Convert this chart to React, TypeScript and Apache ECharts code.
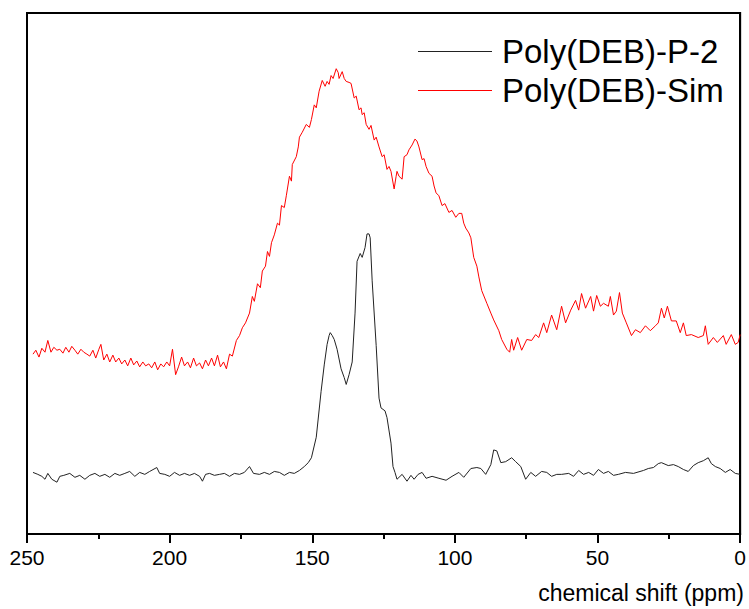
import React, { useEffect, useRef } from "react";
import * as echarts from "echarts";

// Chemical shift (ppm) and intensity (arbitrary units)
const ppmP2 = [247.9,246.2,244.8,243.7,242.7,241.3,239.5,238.5,237.1,235.0,233.2,231.5,229.7,228.0,226.2,224.5,222.7,221.0,219.2,217.5,215.7,214.0,212.2,210.5,208.7,207.0,204.5,203.5,201.7,200.0,198.3,196.5,194.8,193.0,191.3,189.5,188.5,187.4,186.0,184.3,182.5,180.8,179.0,177.3,175.5,173.8,172.0,170.6,168.5,166.8,165.0,163.3,161.5,159.8,158.0,156.3,154.5,152.8,151.4,150.3,148.6,146.9,145.8,144.8,144.1,143.7,143.0,142.3,141.3,139.9,138.8,138.1,137.1,136.0,135.0,134.3,133.2,132.5,131.5,130.8,130.1,129.7,129.0,127.6,126.6,125.9,124.5,123.8,122.4,121.7,121.0,120.3,118.5,116.8,115.4,114.3,112.9,111.5,110.1,108.0,105.6,103.1,101.0,98.6,96.9,94.4,92.3,90.9,89.2,87.4,86.4,85.3,83.9,82.2,80.1,78.7,76.9,75.2,73.4,71.7,69.6,67.8,66.1,64.3,62.6,60.1,58.4,56.6,54.9,53.1,51.4,49.7,47.9,46.2,44.4,42.7,40.2,37.4,33.9,32.2,30.4,28.7,27.6,25.2,23.4,21.7,19.9,18.2,16.4,14.7,12.9,11.2,10.1,8.7,7.0,5.2,3.5,1.7,0];
const intP2 = [63,61,59,56,62,56,53,59,60,62,58,60,56,60,62,59,61,58,62,60,62,64,59,63,61,64,68,62,61,59,63,60,62,60,62,59,54,61,62,60,61,62,59,62,61,63,69,62,61,63,61,64,63,60,63,62,65,69,73,78,99,146,173,194,203,206,203,199,189,169,160,153,163,176,226,279,287,283,293,307,307,303,259,193,139,129,126,119,93,69,63,56,61,54,60,56,61,63,57,59,57,55,59,63,58,67,68,67,61,71,86,85,73,74,78,74,69,56,63,59,64,63,59,61,61,62,59,65,61,63,60,66,62,64,60,61,63,62,65,67,68,72,73,70,71,69,66,64,70,73,75,78,72,69,67,63,66,62,61];

const ppmSim = [247.9,246.9,245.8,244.8,243.7,242.7,241.6,240.6,239.5,238.5,237.4,236.4,235.3,234.3,233.2,232.2,231.1,230.1,229.0,228.0,226.9,225.9,224.8,224.1,223.1,222.0,221.0,219.9,218.9,217.8,216.8,215.7,214.7,213.6,212.6,211.5,210.5,209.4,208.4,207.3,206.3,205.2,204.2,203.1,202.1,201.0,200.0,199.0,197.9,196.9,195.8,194.8,193.7,192.7,191.6,190.6,189.5,188.5,187.4,186.4,185.3,184.3,183.2,182.2,181.1,180.1,179.0,178.0,176.6,175.5,174.5,173.4,172.0,171.0,170.3,169.2,168.2,167.5,166.4,165.7,165.0,164.3,163.3,162.2,161.5,160.8,159.8,159.1,158.0,157.3,157.0,155.6,154.9,154.5,153.5,152.1,151.0,150.3,149.3,148.6,147.6,146.5,145.5,144.8,144.1,143.4,142.7,141.6,140.9,140.6,139.5,138.8,138.1,137.1,136.4,135.3,134.6,133.6,132.9,132.5,131.8,131.1,130.1,129.4,128.3,127.6,126.6,125.5,124.8,123.8,123.1,122.4,121.3,120.6,120.3,119.6,118.5,117.8,116.8,116.1,115.0,114.0,113.3,112.6,111.5,110.8,110.1,109.1,108.0,107.3,106.6,105.6,104.5,103.5,102.1,101.0,99.7,98.6,97.6,96.9,96.2,95.1,94.4,93.4,92.3,91.6,90.6,88.8,87.4,86.4,84.6,83.6,81.8,80.8,80.1,79.4,78.0,76.6,74.8,73.1,71.7,70.6,68.9,67.8,66.1,64.3,62.6,61.2,59.4,57.7,56.6,55.6,54.2,52.4,51.4,50.3,49.0,47.9,46.2,45.5,44.4,43.4,42.3,41.3,39.9,38.1,36.7,35.0,33.2,31.5,29.7,28.7,27.6,26.6,25.5,24.1,22.4,21.0,19.9,18.9,17.1,14.7,12.9,12.2,11.2,9.4,8.0,5.9,4.9,3.1,1.7,0.7,0];
const intSim = [184,188,181,190,186,198,186,191,188,189,185,191,186,192,188,184,189,186,184,182,188,180,189,194,178,184,176,183,176,180,174,178,172,180,173,177,171,176,172,174,170,176,168,174,171,176,172,189,163,171,181,172,176,170,180,172,175,169,178,172,180,172,183,171,176,169,184,182,198,203,211,216,226,243,238,256,252,269,274,289,284,298,306,318,316,336,334,346,366,361,378,386,396,406,411,419,416,424,439,436,453,464,458,463,460,469,466,476,472,466,473,466,463,462,461,446,448,434,436,429,431,419,414,418,403,406,396,386,388,373,376,371,353,366,371,366,363,386,388,393,398,404,402,396,383,384,376,369,366,356,349,346,336,338,329,331,324,328,328,318,313,308,303,283,274,263,249,236,226,219,208,199,189,186,199,188,201,188,199,198,204,201,216,206,224,209,233,216,229,239,229,246,231,243,228,244,233,236,233,243,224,228,247,226,216,203,209,206,213,208,213,216,231,221,233,218,218,206,216,203,204,201,203,213,194,201,196,203,194,204,194,196,204];

const xTicks = [250, 200, 150, 100, 50, 0];
const seriesNames = ["Poly(DEB)-P-2", "Poly(DEB)-Sim"];
const seriesColors = ["#222222", "#ff0000"];

const FONT = "'Liberation Sans', Arial, Helvetica, sans-serif";

export default function App() {
  const ref = useRef<HTMLDivElement>(null);
  useEffect(() => {
    if (!ref.current) return;
    const chart = echarts.init(ref.current, undefined, { renderer: "svg" });
    const p2 = ppmP2.map((p, i) => [p, intP2[i]]);
    const sim = ppmSim.map((p, i) => [p, intSim[i]]);
    chart.setOption({
      animation: false,
      backgroundColor: "#fff",
      grid: {
        left: 27,
        right: 7,
        top: 13,
        bottom: 63,
        show: true,
        borderColor: "#000",
        borderWidth: 2,
      },
      legend: {
        orient: "vertical",
        left: 413,
        top: 30,
        itemWidth: 74,
        itemHeight: 1,
        itemGap: 6,
        data: seriesNames.map((n, i) => ({
          name: n,
          icon: "rect",
          itemStyle: { color: seriesColors[i], borderWidth: 0 },
        })),
        textStyle: {
          fontFamily: FONT,
          fontSize: 33,
          lineHeight: 33,
          color: "#000",
          padding: [0, 0, 0, 5],
        },
      },
      xAxis: {
        type: "value",
        min: 0,
        max: 250,
        interval: 50,
        inverse: true,
        name: "chemical shift (ppm)",
        nameLocation: "middle",
        nameGap: 47,
        nameTextStyle: {
          fontFamily: FONT,
          fontSize: 23,
          color: "#000",
          padding: [0, 0, 0, 515],
        },
        axisLine: { show: true, onZero: false, lineStyle: { color: "#000", width: 2 } },
        axisTick: { show: true, inside: false, length: 9, lineStyle: { color: "#000", width: 2 } },
        minorTick: { show: true, splitNumber: 2, length: 5, lineStyle: { color: "#000", width: 2 } },
        splitLine: { show: false },
        minorSplitLine: { show: false },
        axisLabel: {
          fontFamily: FONT,
          fontSize: 21,
          color: "#000",
          margin: 13,
          formatter: (v: number) => (xTicks.includes(v) ? String(v) : ""),
        },
      },
      yAxis: {
        type: "value",
        min: 0,
        max: 533,
        axisLine: { show: true, lineStyle: { color: "#000", width: 2 } },
        axisTick: { show: false },
        axisLabel: { show: false },
        splitLine: { show: false },
      },
      series: [
        {
          name: seriesNames[0],
          type: "line",
          data: p2,
          symbol: "none",
          lineStyle: { color: seriesColors[0], width: 1 },
          itemStyle: { color: seriesColors[0] },
        },
        {
          name: seriesNames[1],
          type: "line",
          data: sim,
          symbol: "none",
          lineStyle: { color: seriesColors[1], width: 1 },
          itemStyle: { color: seriesColors[1] },
        },
      ],
    });
    return () => chart.dispose();
  }, []);
  return <div ref={ref} style={{ width: 749, height: 609, position: "absolute", left: 0, top: 0 }} />;
}
